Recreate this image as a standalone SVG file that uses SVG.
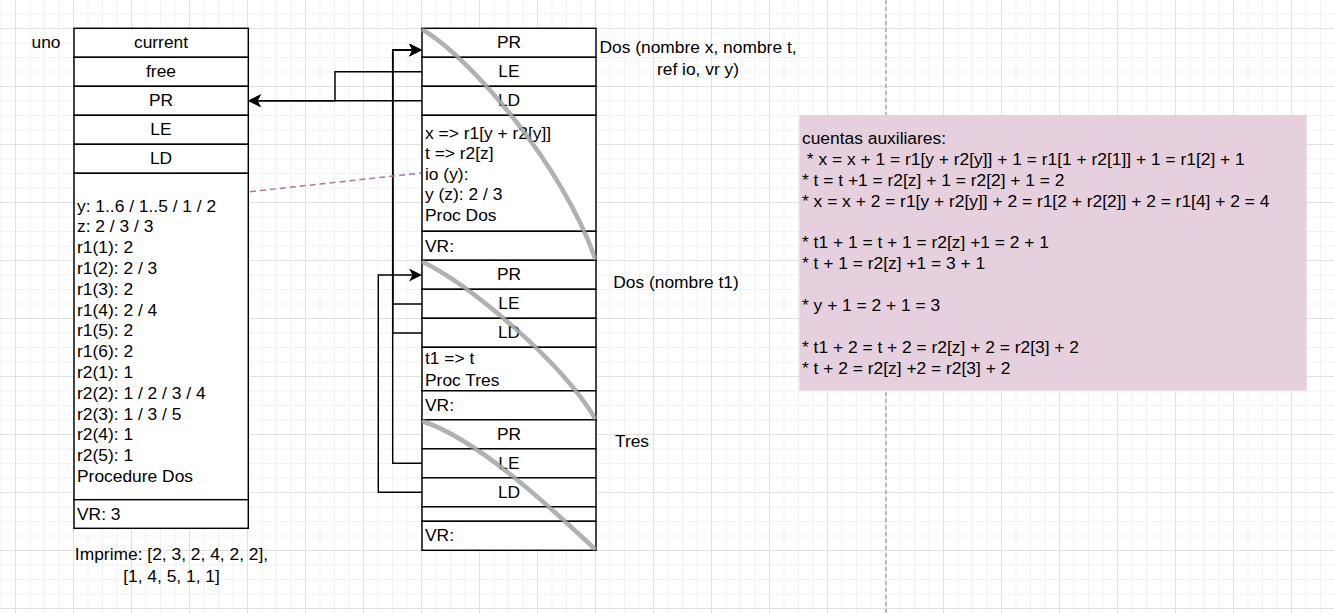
<svg xmlns="http://www.w3.org/2000/svg" width="1334" height="613" viewBox="0 0 1334 613">
<defs>
<pattern id="grid" patternUnits="userSpaceOnUse" x="15" y="28" width="58" height="58">
<path d="M15 0V58M29.5 0V58M44 0V58M0 15H58M0 29.5H58M0 44H58" stroke="#f1f1f1" stroke-width="1" fill="none"/>
<path d="M0.5 0V58M0 0.5H58" stroke="#e0e0e0" stroke-width="1" fill="none"/>
</pattern>
<marker id="arr" markerUnits="userSpaceOnUse" markerWidth="14" markerHeight="14" refX="10" refY="6.5" orient="auto">
<path d="M0,0 L13,6.5 L0,13 L3.5,6.5 Z" fill="#000"/>
</marker>
<style>
text{font-family:"Liberation Sans",Arial,sans-serif;font-size:17.4px;fill:#000;white-space:pre}
.c{text-anchor:middle}
.box{fill:#fff;stroke:#000;stroke-width:1.45}
.edge{fill:none;stroke:#000;stroke-width:1.45}
.hlo{fill:none;stroke:#8c8c8c;stroke-width:4.5;opacity:0.7}
.hli{fill:none;stroke:#b4b4b4;stroke-width:2;opacity:0.8}
</style>
</defs>
<rect width="1334" height="613" fill="#fff"/>
<rect width="1334" height="613" fill="url(#grid)"/>
<line x1="886" y1="0" x2="886" y2="613" stroke="#a8a8a8" stroke-width="1.5" stroke-dasharray="4 3"/>

<g id="uno-label"><text x="46" y="48.3" class="c">uno</text></g>

<g id="uno">
<rect class="box" x="74" y="28.3" width="174.3" height="29"/>
<rect class="box" x="74" y="57.3" width="174.3" height="29"/>
<rect class="box" x="74" y="86.3" width="174.3" height="29"/>
<rect class="box" x="74" y="115.3" width="174.3" height="29"/>
<rect class="box" x="74" y="144.3" width="174.3" height="29"/>
<rect class="box" x="74" y="173.3" width="174.3" height="326.4"/>
<rect class="box" x="74" y="499.7" width="174.3" height="28.6"/>
<text x="161" y="48.3" class="c">current</text>
<text x="161" y="77.3" class="c">free</text>
<text x="161" y="106.3" class="c">PR</text>
<text x="161" y="135.3" class="c">LE</text>
<text x="161" y="164.3" class="c">LD</text>
<text x="77" y="211.5">y: 1..6 / 1..5 / 1 / 2</text>
<text x="77" y="232.3">z: 2 / 3 / 3</text>
<text x="77" y="253.1">r1(1): 2</text>
<text x="77" y="273.9">r1(2): 2 / 3</text>
<text x="77" y="294.7">r1(3): 2</text>
<text x="77" y="315.5">r1(4): 2 / 4</text>
<text x="77" y="336.3">r1(5): 2</text>
<text x="77" y="357.1">r1(6): 2</text>
<text x="77" y="377.9">r2(1): 1</text>
<text x="77" y="398.7">r2(2): 1 / 2 / 3 / 4</text>
<text x="77" y="419.5">r2(3): 1 / 3 / 5</text>
<text x="77" y="440.3">r2(4): 1</text>
<text x="77" y="461.1">r2(5): 1</text>
<text x="77" y="481.9">Procedure Dos</text>
<text x="77" y="519.8">VR: 3</text>
</g>

<g id="imprime">
<text x="171.5" y="560" class="c">Imprime: [2, 3, 2, 4, 2, 2],</text>
<text x="171.5" y="582" class="c">[1, 4, 5, 1, 1]</text>
</g>

<g id="dos1">
<rect class="box" x="422" y="28.3" width="174" height="29"/>
<rect class="box" x="422" y="57.3" width="174" height="29"/>
<rect class="box" x="422" y="86.3" width="174" height="29"/>
<rect class="box" x="422" y="115.3" width="174" height="116"/>
<rect class="box" x="422" y="231.3" width="174" height="29"/>
<text x="509" y="48.3" class="c">PR</text>
<text x="509" y="77.3" class="c">LE</text>
<text x="509" y="106.3" class="c">LD</text>
<text x="425" y="138.5">x =&gt; r1[y + r2[y]]</text>
<text x="425" y="159.1">t =&gt; r2[z]</text>
<text x="425" y="179.7">io (y):</text>
<text x="425" y="200.3">y (z): 2 / 3</text>
<text x="425" y="220.9">Proc Dos</text>
<text x="425" y="251.5">VR:</text>
</g>
<g id="dos1-label">
<text x="698" y="53" class="c">Dos (nombre x, nombre t,</text>
<text x="698" y="74.5" class="c">ref io, vr y)</text>
</g>

<g id="dos2">
<rect class="box" x="422" y="260.3" width="174" height="29"/>
<rect class="box" x="422" y="289.3" width="174" height="29"/>
<rect class="box" x="422" y="318.3" width="174" height="29"/>
<rect class="box" x="422" y="347.3" width="174" height="43.5"/>
<rect class="box" x="422" y="390.8" width="174" height="29"/>
<text x="509" y="280.3" class="c">PR</text>
<text x="509" y="309.3" class="c">LE</text>
<text x="509" y="338.3" class="c">LD</text>
<text x="425" y="363.5">t1 =&gt; t</text>
<text x="425" y="385.5">Proc Tres</text>
<text x="425" y="410.8">VR:</text>
</g>
<g id="dos2-label"><text x="676" y="287.5" class="c">Dos (nombre t1)</text></g>

<g id="tres">
<rect class="box" x="422" y="419.8" width="174" height="29"/>
<rect class="box" x="422" y="448.8" width="174" height="29"/>
<rect class="box" x="422" y="477.8" width="174" height="29"/>
<rect class="box" x="422" y="506.8" width="174" height="14.5"/>
<rect class="box" x="422" y="521.3" width="174" height="29"/>
<text x="509" y="439.8" class="c">PR</text>
<text x="509" y="468.8" class="c">LE</text>
<text x="509" y="497.8" class="c">LD</text>
<text x="425" y="540.8">VR:</text>
</g>
<g id="tres-label"><text x="632" y="446.5" class="c">Tres</text></g>

<g id="cuentas">
<rect x="799.3" y="115" width="507.4" height="275.7" fill="#e6d0de"/>
<text x="802" y="143.8">cuentas auxiliares:</text>
<text x="802" y="164.7"> * x = x + 1 = r1[y + r2[y]] + 1 = r1[1 + r2[1]] + 1 = r1[2] + 1</text>
<text x="802" y="185.6">* t = t +1 = r2[z] + 1 = r2[2] + 1 = 2</text>
<text x="802" y="206.5">* x = x + 2 = r1[y + r2[y]] + 2 = r1[2 + r2[2]] + 2 = r1[4] + 2 = 4</text>
<text x="802" y="248.3">* t1 + 1 = t + 1 = r2[z] +1 = 2 + 1</text>
<text x="802" y="269.2">* t + 1 = r2[z] +1 = 3 + 1</text>
<text x="802" y="311">* y + 1 = 2 + 1 = 3</text>
<text x="802" y="352.8">* t1 + 2 = t + 2 = r2[z] + 2 = r2[3] + 2</text>
<text x="802" y="373.7">* t + 2 = r2[z] +2 = r2[3] + 2</text>
</g>

<g id="connectors">
<path class="hlo" d="M422,29.5 C468,55 563,165 595.5,259.5"/>
<path class="hli" d="M422,29.5 C468,55 563,165 595.5,259.5"/>
<path class="hlo" d="M422,261.5 C470,285 560,360 595.5,419"/>
<path class="hli" d="M422,261.5 C470,285 560,360 595.5,419"/>
<path class="hlo" d="M422,421 C480,440 555,512 595.5,549.5"/>
<path class="hli" d="M422,421 C480,440 555,512 595.5,549.5"/>
<path class="edge" d="M422,71.8 H335 V100.8 H251" marker-end="url(#arr)"/>
<path class="edge" d="M422,100.8 H251" marker-end="url(#arr)"/>
<path class="edge" d="M422,304 H392.7 V50 H419" marker-end="url(#arr)"/>
<path class="edge" d="M422,333 H392.7 V50 H419" marker-end="url(#arr)"/>
<path class="edge" d="M422,463.3 H392.7 V50 H419" marker-end="url(#arr)"/>
<path class="edge" d="M422,492.3 H378.3 V275 H419" marker-end="url(#arr)"/>
<path d="M250,191.7 L421,173" fill="none" stroke="#b5739d" stroke-width="1.5" stroke-dasharray="6 4"/>
</g>
</svg>
